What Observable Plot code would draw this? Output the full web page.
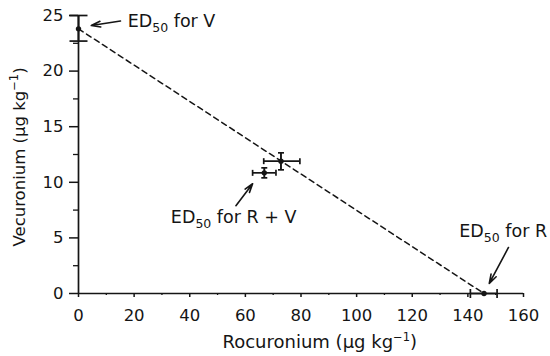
<!DOCTYPE html>
<html>
<head>
<meta charset="utf-8">
<script src="https://cdn.jsdelivr.net/npm/d3@7"></script>
<script src="https://cdn.jsdelivr.net/npm/@observablehq/plot@0.6"></script>
<style>
  html, body { margin: 0; padding: 0; background: #fff; }
  #chart svg { display: block; }
</style>
</head>
<body>
<div id="chart"></div>
<script>
// ---- data ----
const pointNames   = ["ED50 for V", "R + V (1)", "R + V (2)", "ED50 for R"];
const rocuronium   = [0, 72.8, 66.8, 145.8];
const rocuroniumLo = [0, 66.6, 62.6, 140.9];
const rocuroniumHi = [0, 79.6, 71.0, 150.5];
const vecuronium   = [23.8, 11.9, 10.85, 0];
const vecuroniumLo = [22.7, 11.12, 10.4, 0];
const vecuroniumHi = [25.0, 12.65, 11.3, 0];

const xMajorTicks = [0, 20, 40, 60, 80, 100, 120, 140, 160];
const xMinorTicks = [10, 30, 50, 70, 90, 110, 130, 150];
const yMajorTicks = [0, 5, 10, 15, 20, 25];
const yMinorTicks = [2.5, 7.5, 12.5, 17.5, 22.5];

const xTitle = "Rocuronium (μg kg^−1)";
const yTitle = "Vecuronium (μg kg^−1)";

const noteText  = ["ED50 for V", "ED50 for R + V", "ED50 for R"];
const noteX     = [17.7, 33.2, 136.9];
const noteY     = [24.45, 6.8, 5.6];
const arrowX1   = [15.1, 56.6, 154.6];
const arrowY1   = [24.5, 7.9, 4.14];
const arrowX2   = [4.6, 62.6, 147.7];
const arrowY2   = [24.1, 9.87, 0.9];

// ---- tables built from the arrays ----
const points = pointNames.map((name, i) => ({
  name, x: rocuronium[i], xLo: rocuroniumLo[i], xHi: rocuroniumHi[i],
  y: vecuronium[i], yLo: vecuroniumLo[i], yHi: vecuroniumHi[i]
}));
const notes = noteText.map((t, i) => ({
  text: t, x: noteX[i], y: noteY[i],
  x1: arrowX1[i], y1: arrowY1[i], x2: arrowX2[i], y2: arrowY2[i]
}));
const withY = points.filter(d => d.yHi > d.yLo);
const withX = points.filter(d => d.xHi > d.xLo);
const yCaps = withY.flatMap(d => [{name: d.name, x: d.x, y: d.yLo}, {name: d.name, x: d.x, y: d.yHi}]);
const xCaps = withX.flatMap(d => [{name: d.name, x: d.xLo, y: d.y}, {name: d.name, x: d.xHi, y: d.y}]);
const additivity = [points[0], points[points.length - 1]];

const hCap = {draw(ctx, size) { const r = Math.sqrt(size / Math.PI); ctx.moveTo(-r, 0); ctx.lineTo(r, 0); }};
const vCap = {draw(ctx, size) { const r = Math.sqrt(size / Math.PI); ctx.moveTo(0, -r); ctx.lineTo(0, r); }};

const ink = "#151515";

const chart = Plot.plot({
  width: 550,
  height: 356,
  marginLeft: 78,
  marginRight: 27,
  marginTop: 15,
  marginBottom: 63,
  style: {fontFamily: "'DejaVu Sans', sans-serif", fontSize: "16.5px", color: ink, background: "#fff"},
  x: {domain: [0, 160]},
  y: {domain: [0, 25]},
  r: {type: "identity"},
  marks: [
    Plot.axisX(xMajorTicks, {tickSize: 4, tickPadding: 12, label: null, stroke: ink, strokeWidth: 1.5}),
    Plot.axisX(xMinorTicks, {tickSize: 2, tickFormat: () => "", label: null, stroke: ink, strokeWidth: 1.3}),
    Plot.axisY(yMajorTicks, {tickSize: 9, tickPadding: 6, label: null, stroke: ink, strokeWidth: 1.5}),
    Plot.axisY(yMinorTicks, {tickSize: 5, tickFormat: () => "", label: null, stroke: ink, strokeWidth: 1.3}),
    Plot.ruleY([0], {stroke: ink, strokeWidth: 1.7}),
    Plot.ruleX([0], {stroke: ink, strokeWidth: 1.7}),
    Plot.line(additivity, {x: "x", y: "y", stroke: ink, strokeWidth: 1.5, strokeDasharray: "5.5,4"}),
    Plot.ruleY(withX, {y: "y", x1: "xLo", x2: "xHi", stroke: ink, strokeWidth: 1.7}),
    Plot.ruleX(withY, {x: "x", y1: "yLo", y2: "yHi", stroke: ink, strokeWidth: 1.9}),
    Plot.dot(yCaps, {x: "x", y: "y", symbol: hCap, r: d => d.name === "ED50 for V" ? 9 : 3, stroke: ink, strokeWidth: 1.7, fill: "none"}),
    Plot.dot(xCaps, {x: "x", y: "y", symbol: vCap, r: d => d.name === "ED50 for R" ? 4.5 : 3, stroke: ink, strokeWidth: 1.7, fill: "none"}),
    Plot.dot(points, {x: "x", y: "y", r: 2.7, fill: ink, stroke: "none"}),
    Plot.arrow(notes, {x1: "x1", y1: "y1", x2: "x2", y2: "y2", stroke: ink, strokeWidth: 1.6, headLength: 9, headAngle: 35}),
    Plot.text(notes, {x: "x", y: "y", text: "text", textAnchor: "start", lineAnchor: "middle", fontSize: 17.5, fill: ink}),
    Plot.text([xTitle], {frameAnchor: "bottom-left", dx: 144, dy: 48.5, textAnchor: "start", lineAnchor: "middle", fontSize: 18, fill: ink}),
    Plot.text([yTitle], {frameAnchor: "bottom-left", dx: -58.5, dy: -47, rotate: -90, textAnchor: "start", lineAnchor: "middle", fontSize: 16.5, fill: ink})
  ]
});

// subscripts / superscripts inside the texts
function richText(svg) {
  const NS = "http://www.w3.org/2000/svg";
  for (const t of Array.from(svg.querySelectorAll("text"))) {
    if (t.children.length) continue;
    const s = t.textContent;
    if (!/ED50|\^/.test(s)) continue;
    const parts = s.split(/(ED50|\^−1)/).filter(p => p !== "");
    t.textContent = "";
    let pending = 0;
    for (const p of parts) {
      if (p === "ED50") {
        const a = document.createElementNS(NS, "tspan");
        a.textContent = "ED";
        if (pending) { a.setAttribute("dy", pending); pending = 0; }
        t.appendChild(a);
        const b = document.createElementNS(NS, "tspan");
        b.textContent = "50";
        b.setAttribute("dy", 5);
        b.setAttribute("font-size", "12.5");
        t.appendChild(b);
        pending = -5;
      } else if (p === "^−1") {
        const b = document.createElementNS(NS, "tspan");
        b.textContent = "−1";
        b.setAttribute("dy", -7 + pending);
        b.setAttribute("font-size", "11.5");
        t.appendChild(b);
        pending = 7;
      } else {
        const a = document.createElementNS(NS, "tspan");
        a.textContent = p;
        if (pending) { a.setAttribute("dy", pending); pending = 0; }
        t.appendChild(a);
      }
    }
  }
}
richText(chart);
document.getElementById("chart").appendChild(chart);
</script>
</body>
</html>
